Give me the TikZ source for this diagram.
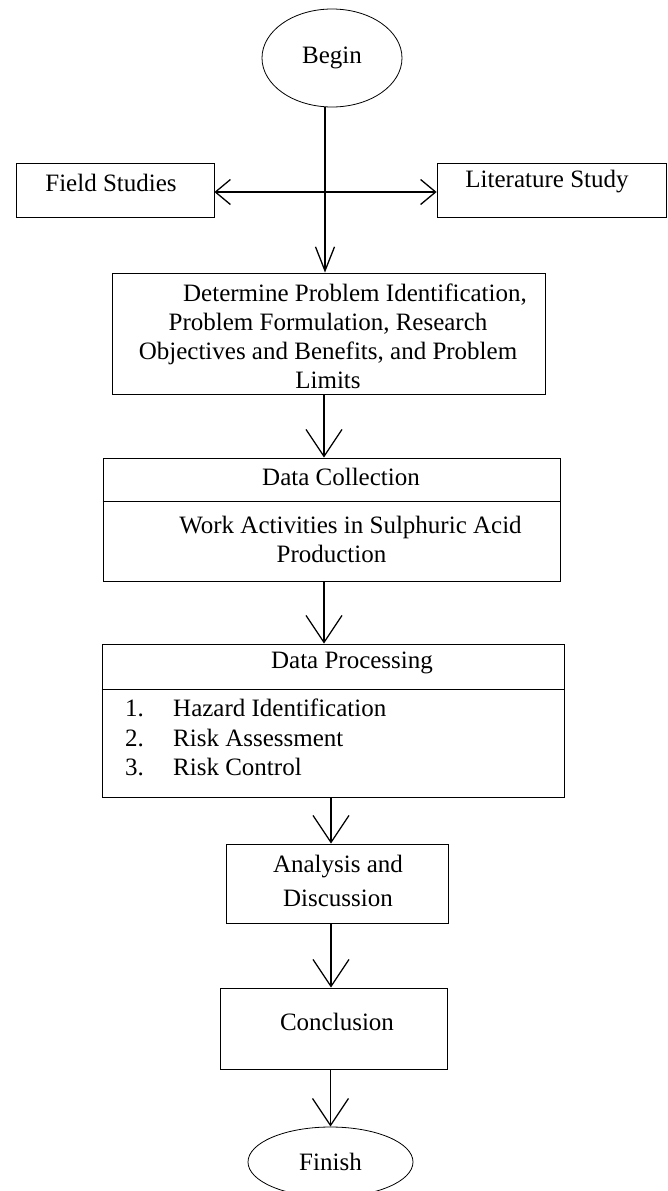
\documentclass[tikz,border=0pt]{standalone}
\usepackage{fontspec}
\setmainfont{Liberation Serif}
\usetikzlibrary{arrows.meta,shapes.geometric}
\newcommand{\fsz}{\fontsize{25}{29}\selectfont}
\begin{document}
\begin{tikzpicture}[x=1pt,y=-1pt,
  box/.style={draw, line width=0.8pt, inner sep=0pt},
  txt/.style={inner sep=0pt, align=center, font=\fsz},
  arrS/.style={line width=1.3pt, -{Straight Barb[length=15pt,width=25pt]}},
  arrD/.style={line width=1.3pt, -{Straight Barb[length=24pt,width=19pt]}},
  arrB/.style={line width=1.3pt, -{Straight Barb[length=27pt,width=36pt]}}]
\useasboundingbox (0,0) rectangle (668,1191);
\fill[white] (0,0) rectangle (668,1191);

% start
\node[box, ellipse, minimum width=140pt, minimum height=98pt, font=\fsz] (begin) at (332,58) {Begin};

% side boxes
\node[box, minimum width=198pt, minimum height=54pt] (field) at (115,190) {};
\node[txt] (fieldt) at (111,183) {Field Studies};
\node[box, minimum width=229pt, minimum height=54pt] (lit) at (551.5,190) {};
\node[txt] (litt) at (547,182) {Literature Study};

% determine
\node[box, minimum width=433pt, minimum height=121pt] (det) at (328.5,333.5) {};
\node[txt] (dett) at (328,336) {\hspace*{54pt}Determine Problem Identification,\\Problem Formulation, Research\\Objectives and Benefits, and Problem\\Limits};

% data collection
\node[box, minimum width=457pt, minimum height=123pt] (dc) at (331.5,519.5) {};
\coordinate (dcdiv) at (0,501);
\draw[line width=0.8pt] (dc.west |- dcdiv) -- (dc.east |- dcdiv);
\node[txt] (dct) at (341,477) {Data Collection};
\node[txt] (dcb) at (331.5,539) {\hspace*{38pt}Work Activities in Sulphuric Acid\\Production};

% data processing
\node[box, minimum width=462pt, minimum height=153pt] (dp) at (333,720.5) {};
\coordinate (dpdiv) at (0,689);
\draw[line width=0.8pt] (dp.west |- dpdiv) -- (dp.east |- dpdiv);
\node[txt] (dpt) at (352,663) {Data Processing};
\node[txt, anchor=west] (n1) at (125,708) {1.};
\node[txt, anchor=west] (i1) at (173,708) {Hazard Identification};
\node[txt, anchor=west] (n2) at (125,738) {2.};
\node[txt, anchor=west] (i2) at (173,738) {Risk Assessment};
\node[txt, anchor=west] (n3) at (125,767) {3.};
\node[txt, anchor=west] (i3) at (173,767) {Risk Control};

% analysis
\node[box, minimum width=222pt, minimum height=79pt] (an) at (337,883.5) {};
\node[txt, font=\fontsize{25}{34}\selectfont] (ant) at (338,881) {Analysis and\\Discussion};

% conclusion
\node[box, minimum width=227pt, minimum height=81pt] (con) at (333.5,1028.5) {};
\node[txt] (cont) at (337,1022) {Conclusion};

% finish
\node[box, ellipse, minimum width=165pt, minimum height=70pt, font=\fsz] (fin) at (330.5,1162) {Finish};

% connectors
\coordinate (cross) at (325,192);
\coordinate (xa) at (324,0);
\coordinate (xb) at (331,0);
\draw[arrD] (begin.south -| cross) -- (cross |- det.north);
\draw[arrS] (cross) -- (cross -| field.east);
\draw[arrS] (cross) -- (cross -| lit.west);
\draw[arrB] (det.south -| xa) -- (dc.north -| xa);
\draw[arrB] (dc.south -| xa) -- (dp.north -| xa);
\draw[arrB] (dp.south -| xb) -- (an.north -| xb);
\draw[arrB] (an.south -| xb) -- (con.north -| xb);
\draw[arrB] (con.south -| fin.north) -- (fin.north);
\end{tikzpicture}
\end{document}
